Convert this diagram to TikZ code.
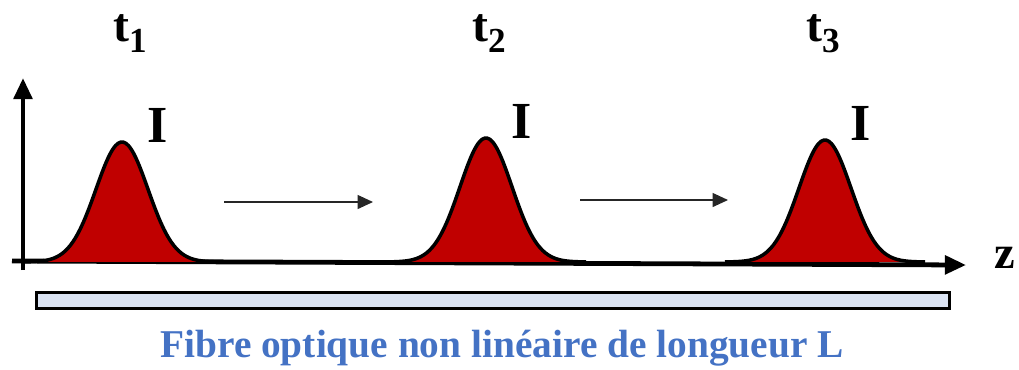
\documentclass[tikz,border=0pt]{standalone}
\usepackage{fontspec}
\setmainfont{Liberation Serif}
\usetikzlibrary{arrows.meta,positioning}
\definecolor{pulsered}{RGB}{192,0,0}
\definecolor{fibrefill}{RGB}{218,227,243}
\definecolor{fibretext}{RGB}{68,114,196}
\newcommand{\tlab}[1]{t\raisebox{-8pt}{\fontsize{25}{25}\selectfont #1}}

\begin{document}
\begin{tikzpicture}[x=0.025cm, y=-0.025cm,
  axis/.style={line width=3.4pt, -{Triangle[length=15pt, width=13pt]}},
  prop/.style={line width=0.8pt, black!85, -{Triangle[length=11pt, width=10pt]}},
  pulse/.style={line width=2.5pt, line join=round},
  lbl/.style={font=\fontsize{37}{40}\selectfont\bfseries, inner sep=0pt, anchor=base},
  tlbl/.style={font=\fontsize{34}{36}\selectfont\bfseries, inner sep=0pt, anchor=base west}]
\useasboundingbox (0,0) rectangle (1019,369);

%% ── axes ─────────────────────────────────────────
\coordinate (o)  at (23,270);
\coordinate (yt) at (23,78);
\coordinate (x0) at (12,261);
\coordinate (xt) at (966,265);
\draw[axis] (o) -- (yt);
\draw[axis] (x0) -- (xt);
\node[font=\fontsize{33}{36}\selectfont\bfseries, inner sep=0pt, anchor=base] (z) at (1005,268) {z};

%% ── pulses (gaussian, sigma = 26px) ──────────────
\foreach \c/\p/\n in {122/142/1, 486/138/2, 825/140/3}{
  \fill[pulsered] plot[domain=\c-95:\c+95, samples=80, smooth]
    (\x,{262-(262-\p)*exp(-((\x-\c)/26)^2/2)}) -- cycle;
  \draw[pulse] plot[domain=\c-100:\c+100, samples=80, smooth]
    (\x,{262-(262-\p)*exp(-((\x-\c)/26)^2/2)});
  \node[lbl] (I\n) at (\c+36,\p) {I};
}
\node[tlbl] (t1) at (113,41) {\tlab{1}};
\node[tlbl] (t2) at (472,41) {\tlab{2}};
\node[tlbl] (t3) at (806,41) {\tlab{3}};

%% ── propagation arrows ───────────────────────────
\coordinate (a0) at (224,202);
\coordinate (a1) at (373,202);
\coordinate (b0) at (580,200);
\coordinate (b1) at (728,200);
\draw[prop] (a0) -- (a1);
\draw[prop] (b0) -- (b1);

%% ── fibre ────────────────────────────────────────
\node[draw, line width=1.8pt, fill=fibrefill, inner sep=0pt, anchor=north west,
  minimum width=22.825cm, minimum height=0.4cm] (fibre) at (35,291) {};
\node[font=\fontsize{28}{30}\selectfont\bfseries, text=fibretext, inner sep=0pt, anchor=base]
  (caption) at (502,357) {Fibre optique non linéaire de longueur L};
\end{tikzpicture}
\end{document}
